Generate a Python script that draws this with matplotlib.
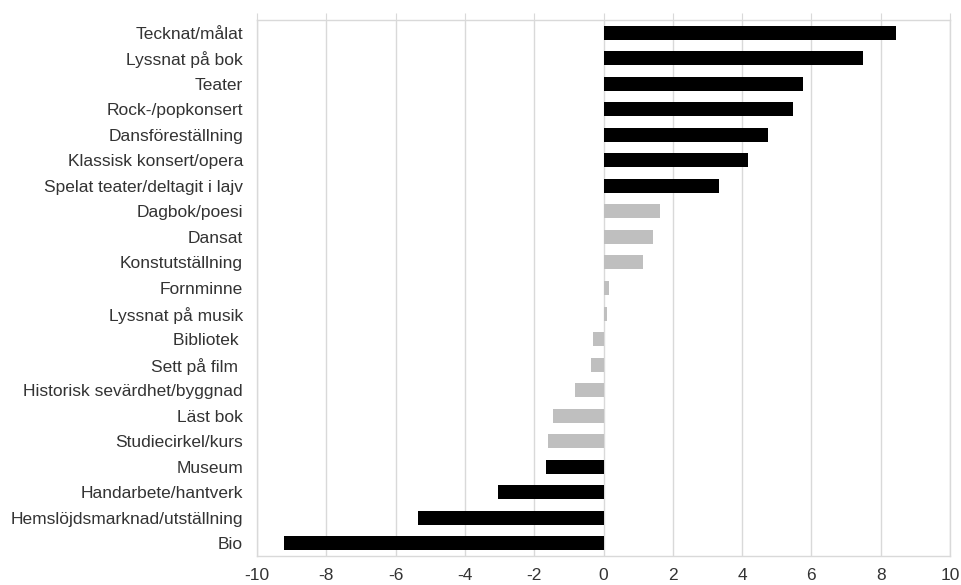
import matplotlib.pyplot as plt

plt.rcParams['font.family'] = ['Liberation Sans', 'DejaVu Sans']

categories = ['Tecknat/målat', 'Lyssnat på bok', 'Teater', 'Rock-/popkonsert',
              'Dansföreställning', 'Klassisk konsert/opera',
              'Spelat teater/deltagit i lajv', 'Dagbok/poesi', 'Dansat',
              'Konstutställning', 'Fornminne', 'Lyssnat på musik', 'Bibliotek ',
              'Sett på film ', 'Historisk sevärdhet/byggnad', 'Läst bok',
              'Studiecirkel/kurs', 'Museum', 'Handarbete/hantverk',
              'Hemslöjdsmarknad/utställning', 'Bio']
values = [8.43, 7.50, 5.77, 5.47, 4.75, 4.17, 3.34, 1.62, 1.44, 1.14, 0.17,
          0.11, -0.29, -0.35, -0.82, -1.47, -1.60, -1.66, -3.05, -5.36, -9.22]
# True = dark bar, False = grey bar
significant = [True, True, True, True, True, True, True, False, False, False,
               False, False, False, False, False, False, False, True, True,
               True, True]
xticks = list(range(-10, 11, 2))

colors = ['#000000' if s else '#bfbfbf' for s in significant]
pos = list(range(len(categories)))[::-1]

fig = plt.figure(figsize=(9.62, 5.85), dpi=100)
ax = fig.add_axes([257 / 962, 29 / 585, 693 / 962, 536 / 585])

ax.barh(pos, values, height=0.55, color=colors, zorder=3)

ax.set_xlim(-10, 10)
ax.set_ylim(-0.5, len(categories) - 0.5)
ax.set_xticks(xticks)
ax.set_xticklabels([str(t) for t in xticks])
ax.set_yticks(pos)
ax.set_yticklabels(categories)

grid_c = '#d9d9d9'
ax.grid(axis='x', color=grid_c, linewidth=1, zorder=0)
for s in ax.spines.values():
    s.set_color(grid_c)
    s.set_linewidth(1)

ax.tick_params(axis='y', length=0, pad=10, labelsize=12.5, labelcolor='#333333')
ax.tick_params(axis='x', bottom=False, top=True, direction='out', length=5,
               color=grid_c, labelsize=12.5, labelcolor='#333333', pad=4)

fig.savefig('out.png', dpi=100)
